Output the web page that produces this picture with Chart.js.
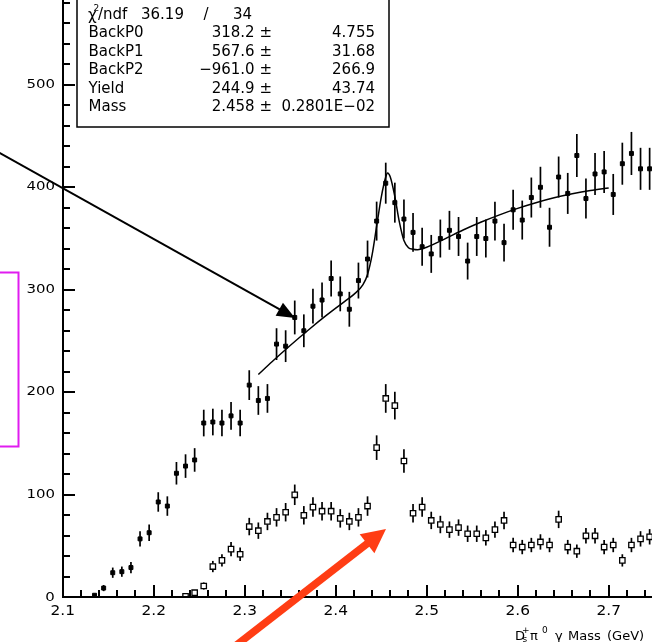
<!DOCTYPE html>
<html>
<head>
<meta charset="utf-8">
<script src="https://cdn.jsdelivr.net/npm/chart.js@4.4.1/dist/chart.umd.min.js"></script>
<style>
  html, body { margin: 0; padding: 0; background: #fff; }
  #massChart { display: block; }
</style>
</head>
<body>
<canvas id="massChart" width="652" height="642"></canvas>
<script>
// bin centres (GeV), 10 MeV bins
const binCenters = [
  2.135, 2.145, 2.155, 2.165, 2.175, 2.185, 2.195, 2.205, 2.215, 2.225,
  2.235, 2.245, 2.255, 2.265, 2.275, 2.285, 2.295, 2.305, 2.315, 2.325,
  2.335, 2.345, 2.355, 2.365, 2.375, 2.385, 2.395, 2.405, 2.415, 2.425,
  2.435, 2.445, 2.455, 2.465, 2.475, 2.485, 2.495, 2.505, 2.515, 2.525,
  2.535, 2.545, 2.555, 2.565, 2.575, 2.585, 2.595, 2.605, 2.615, 2.625,
  2.635, 2.645, 2.655, 2.665, 2.675, 2.685, 2.695, 2.705, 2.715, 2.725,
  2.735, 2.745
];

// filled points (upper histogram)
const signalCounts = [
  2, 9, 24, 25, 29, 57, 63, 93, 89, 121,
  128, 134, 170, 171, 170, 177, 170, 207, 192, 194,
  247, 245, 273, 260, 284, 290, 311, 296, 281, 309,
  330, 367, 404, 385, 369, 356, 342, 335, 350, 358,
  352, 328, 352, 350, 367, 346, 378, 368, 390, 400,
  361, 410, 394, 431, 389, 413, 415, 393, 423, 433,
  418, 418
];
const signalErrors = [
  1.5, 3, 5, 5, 5.5, 7.5, 8, 9.5, 9.5, 11,
  11.5, 11.5, 13, 13, 13, 13.5, 13, 14.5, 14, 14,
  15.5, 15.5, 16.5, 16, 17, 17, 17.5, 17, 17, 17.5,
  18, 19, 20, 19.5, 19, 19, 18.5, 18.5, 18.5, 19,
  19, 18, 19, 18.5, 19, 18.5, 19.5, 19, 19.5, 20,
  19, 20, 20, 21, 19.5, 20.5, 20.5, 20, 20.5, 21,
  20.5, 20.5
];

// open squares (lower histogram)
const sidebandCounts = [
  null, null, null, null, null, null, null, null, null, null,
  1, 4.5, 11, 30, 36, 47, 42, 69, 65, 74,
  78, 83, 100, 80, 88, 84, 84, 77, 74, 78,
  89, 146, 194, 187, 133, 82, 88, 75, 71, 66,
  68, 62, 62, 58, 66, 75, 51, 49, 51, 54,
  51, 76, 49, 45, 60, 60, 49, 51, 36, 51,
  57, 59
];
const sidebandErrors = [
  0, 0, 0, 0, 0, 0, 0, 0, 0, 0,
  1, 2, 3.5, 5.5, 6, 7, 6.5, 8.5, 8, 8.5,
  9, 9, 10, 9, 9.5, 9, 9, 9, 8.5, 9,
  9.5, 12, 14, 13.5, 11.5, 9, 9.5, 8.5, 8.5, 8,
  8, 8, 8, 7.5, 8, 8.5, 7, 7, 7, 7.5,
  7, 8.5, 7, 6.5, 7.5, 7.5, 7, 7, 6, 7,
  7.5, 7.5
];

// fit curve
const fitMass = [
  2.315, 2.33, 2.35, 2.37, 2.39, 2.41, 2.42, 2.43, 2.435, 2.44,
  2.445, 2.45, 2.455, 2.457, 2.46, 2.465, 2.47, 2.475, 2.48, 2.485,
  2.49, 2.495, 2.50, 2.52, 2.54, 2.56, 2.58, 2.60, 2.62, 2.64,
  2.66, 2.68, 2.70
];
const fitValues = [
  217.4, 229.8, 245.7, 260.8, 275.2, 288.7, 295.5, 305.0, 315.0, 334.0,
  362.0, 390.0, 410.0, 414.0, 410.0, 391.0, 366.0, 348.0, 341.0, 339.5,
  339.0, 340.0, 341.5, 349.7, 358.3, 366.1, 373.1, 379.4, 384.9, 389.7,
  393.6, 396.8, 399.3
];

const xTickLabels = ['2.1', '2.2', '2.3', '2.4', '2.5', '2.6', '2.7'];
const yTickLabels = ['0', '100', '200', '300', '400', '500'];

const statRows = [
  ['BackP0', '318.2 \u00b1', '4.755'],
  ['BackP1', '567.6 \u00b1', '31.68'],
  ['BackP2', '\u2212961.0 \u00b1', '266.9'],
  ['Yield', '244.9 \u00b1', '43.74'],
  ['Mass', '2.458 \u00b1', '0.2801E\u221202']
];

const X_MIN = 2.1, X_MAX = 2.7476;
const Y_MIN = 0, Y_MAX = 582.7;

function toPoints(xs, ys, es) {
    const pts = [];
    xs.forEach((x, i) => {
        if (ys[i] === null) return;
        pts.push({ x: x, y: ys[i], e: es ? es[i] : 0 });
    });
    return pts;
}

function stretchText(ctx, text, x, y, sx, align) {
    ctx.save();
    ctx.translate(x, y);
    ctx.scale(sx, 1);
    ctx.textAlign = align;
    ctx.fillText(text, 0, 0);
    ctx.restore();
}

function arrow(ctx, x0, y0, x1, y1, width, headLen, headHalf, color) {
    const dx = x1 - x0, dy = y1 - y0;
    const len = Math.sqrt(dx * dx + dy * dy);
    const ux = dx / len, uy = dy / len;
    const bx = x1 - ux * headLen, by = y1 - uy * headLen;
    ctx.save();
    ctx.strokeStyle = color;
    ctx.fillStyle = color;
    ctx.lineWidth = width;
    ctx.beginPath();
    ctx.moveTo(x0, y0);
    ctx.lineTo(bx + ux * 2, by + uy * 2);
    ctx.stroke();
    ctx.beginPath();
    ctx.moveTo(x1, y1);
    ctx.lineTo(bx - uy * headHalf, by + ux * headHalf);
    ctx.lineTo(bx + uy * headHalf, by - ux * headHalf);
    ctx.closePath();
    ctx.fill();
    ctx.restore();
}

// vertical error bars, under the markers
const errorBars = {
    id: 'errorBars',
    beforeDatasetsDraw(chart) {
        const ctx = chart.ctx, xs = chart.scales.x, ys = chart.scales.y;
        ctx.save();
        ctx.strokeStyle = '#000';
        ctx.lineWidth = 1.7;
        chart.data.datasets.forEach(ds => {
            if (!ds.errorBars) return;
            ds.data.forEach(p => {
                if (!p.e) return;
                const px = xs.getPixelForValue(p.x);
                ctx.beginPath();
                ctx.moveTo(px, ys.getPixelForValue(Math.max(0, p.y - p.e)));
                ctx.lineTo(px, ys.getPixelForValue(p.y + p.e));
                ctx.stroke();
            });
        });
        ctx.restore();
    }
};

// ROOT style frame: axes with inward ticks, labels, stats box, annotations
const frame = {
    id: 'frame',
    afterDraw(chart) {
        const ctx = chart.ctx, xs = chart.scales.x, ys = chart.scales.y;
        const area = chart.chartArea;
        const x0 = Math.round(xs.getPixelForValue(X_MIN)), y0 = Math.round(ys.getPixelForValue(0));
        ctx.save();
        ctx.fillStyle = '#000';

        // axis lines
        ctx.fillRect(x0 - 1, 0, 2, y0 + 1);
        ctx.fillRect(x0 - 1, y0 - 1, area.right - x0 + 2, 2);

        // ticks, pointing into the plot
        for (let k = 0; k <= 29; k++) {
            const py = Math.round(ys.getPixelForValue(k * 20));
            const len = (k % 5 === 0) ? 12 : 7;
            ctx.fillRect(x0, py - 1, len, 2);
        }
        for (let k = 0; k <= 32; k++) {
            const px = Math.round(xs.getPixelForValue(X_MIN + k * 0.02));
            const len = (k % 5 === 0) ? 12 : 7;
            ctx.fillRect(px - 1, y0 - len, 2, len);
        }

        // tick labels
        ctx.textBaseline = 'middle';
        ctx.font = '11.5px "DejaVu Sans"';
        yTickLabels.forEach(t => {
            const v = parseFloat(t);
            if (v === 0) {
                stretchText(ctx, t, 50, y0 + 1, 1.3, 'center');
            } else {
                stretchText(ctx, t, 55, ys.getPixelForValue(v), 1.3, 'right');
            }
        });
        ctx.font = '14px "DejaVu Sans"';
        xTickLabels.forEach(t => {
            stretchText(ctx, t, xs.getPixelForValue(parseFloat(t)), y0 + 14, 1.1, 'center');
        });

        // axis title
        ctx.textAlign = 'left';
        ctx.textBaseline = 'alphabetic';
        ctx.font = '13px "DejaVu Sans"';
        ctx.fillText('D', 515, 639.5);
        ctx.fillText('\u03c0', 530, 639.5);
        ctx.fillText('\u03b3', 555, 639.5);
        ctx.fillText('Mass', 568, 639.5);
        ctx.fillText('(GeV)', 607, 639.5);
        ctx.font = '9px "DejaVu Sans"';
        ctx.fillText('+', 522, 633);
        ctx.fillText('s', 522.5, 642);
        ctx.fillText('0', 542, 633);

        // stats box
        ctx.fillStyle = '#fff';
        ctx.fillRect(77, -2, 312, 129);
        ctx.strokeStyle = '#000';
        ctx.lineWidth = 1.5;
        ctx.strokeRect(77, -2, 312, 129);
        ctx.fillStyle = '#000';
        ctx.font = '15px "DejaVu Sans"';
        ctx.textBaseline = 'middle';
        ctx.textAlign = 'left';
        ctx.fillText('\u03c7', 88, 16);
        ctx.fillText('/ndf', 98, 15);
        ctx.fillText('36.19', 141, 15);
        ctx.textAlign = 'center';
        ctx.fillText('/', 206, 15);
        ctx.textAlign = 'right';
        ctx.fillText('34', 252, 15);
        ctx.font = '9px "DejaVu Sans"';
        ctx.textAlign = 'left';
        ctx.fillText('2', 93.5, 9);
        ctx.font = '15px "DejaVu Sans"';
        statRows.forEach((row, i) => {
            const ry = 33.5 + i * 18.4;
            ctx.textAlign = 'left';
            ctx.fillText(row[0], 88.5, ry);
            ctx.textAlign = 'right';
            ctx.fillText(row[1], 272, ry);
            ctx.fillText(row[2], 375, ry);
        });

        // annotations drawn over the plot
        arrow(ctx, -2, 152, 295, 318, 2, 18, 7.5, '#000');
        arrow(ctx, 225, 654, 386, 529, 7.5, 24, 12, '#ff3d14');
        ctx.strokeStyle = '#e01cf0';
        ctx.lineWidth = 2;
        ctx.strokeRect(-5, 272.5, 23.5, 174);

        ctx.restore();
    }
};

new Chart(document.getElementById('massChart'), {
    type: 'scatter',
    data: {
        datasets: [
            {
                type: 'line',
                label: 'fit',
                data: toPoints(fitMass, fitValues, null),
                borderColor: '#000',
                borderWidth: 1.5,
                pointRadius: 0,
                fill: false,
                cubicInterpolationMode: 'monotone'
            },
            {
                label: 'signal',
                data: toPoints(binCenters, signalCounts, signalErrors),
                errorBars: true,
                pointStyle: 'rect',
                pointRadius: 2.8,
                backgroundColor: '#000',
                borderColor: '#000',
                borderWidth: 1
            },
            {
                label: 'sideband',
                data: toPoints(binCenters, sidebandCounts, sidebandErrors),
                errorBars: true,
                pointStyle: 'rect',
                pointRadius: 3.8,
                backgroundColor: '#fff',
                borderColor: '#000',
                borderWidth: 1.3
            }
        ]
    },
    options: {
        responsive: false,
        animation: false,
        devicePixelRatio: 1,
        layout: {
            autoPadding: false,
            padding: { left: 62.7, top: 0, right: 0, bottom: 44.7 }
        },
        plugins: {
            legend: { display: false },
            tooltip: { enabled: false }
        },
        scales: {
            x: { type: 'linear', display: false, min: X_MIN, max: X_MAX },
            y: { type: 'linear', display: false, min: Y_MIN, max: Y_MAX }
        }
    },
    plugins: [errorBars, frame]
});
</script>
</body>
</html>
